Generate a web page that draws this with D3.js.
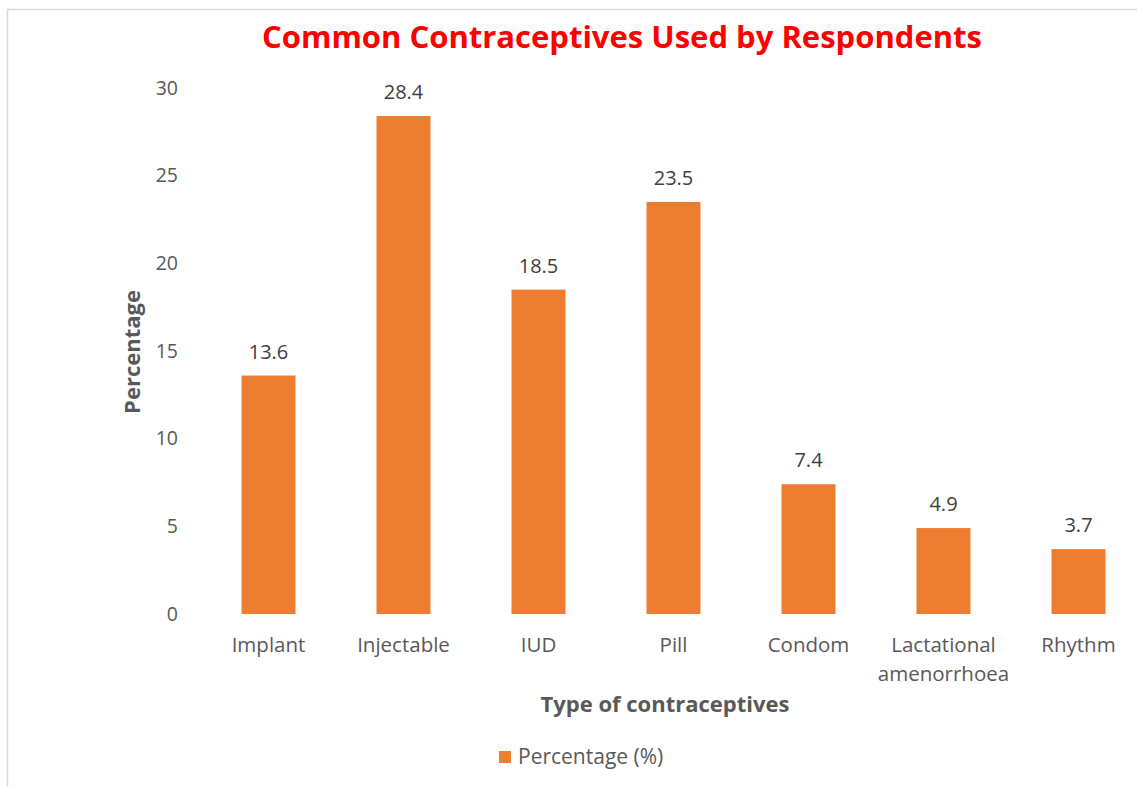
<!DOCTYPE html>
<html>
<head>
<meta charset="utf-8">
<script src="https://cdn.jsdelivr.net/npm/d3@7"></script>
<style>
  html, body { margin: 0; padding: 0; background: #fff; }
  svg { display: block; }
  text { font-family: "Open Sans", "Noto Sans", sans-serif; }
</style>
</head>
<body>
<svg id="chart" width="1137" height="787"></svg>
<script>
// Contraceptive methods and share of respondents using each (%)
const categories = ["Implant", "Injectable", "IUD", "Pill", "Condom", "Lactational amenorrhoea", "Rhythm"];
const categoryLines = [["Implant"], ["Injectable"], ["IUD"], ["Pill"], ["Condom"], ["Lactational", "amenorrhoea"], ["Rhythm"]];
const percentages = [13.6, 28.4, 18.5, 23.5, 7.4, 4.9, 3.7];
const yTicks = [0, 5, 10, 15, 20, 25, 30];

const svg = d3.select("#chart");
const W = 1137, H = 787;

// chart frame
svg.append("rect")
  .attr("x", 7.5).attr("y", 9.5)
  .attr("width", W + 20).attr("height", H + 20)
  .attr("fill", "#fff")
  .attr("stroke", "#d9d9d9").attr("stroke-width", 1.5);

const plot = { left: 201, right: 1146, top: 88, bottom: 614 };

const x = d3.scaleBand()
  .domain(categories)
  .range([plot.left, plot.right])
  .paddingInner(0.6)
  .paddingOuter(0.3);

const y = d3.scaleLinear()
  .domain([0, 30])
  .range([plot.bottom, plot.top]);

const textColor = "#595959";

// y axis (labels only)
const yAxis = svg.append("g")
  .attr("transform", `translate(${plot.left - 23},0)`)
  .call(d3.axisLeft(y).tickValues(yTicks).tickSize(0).tickPadding(0));
yAxis.select(".domain").remove();
yAxis.selectAll("text")
  .attr("fill", textColor)
  .style("font-size", "19.5px")
  .style("font-family", "'Open Sans', sans-serif");

// bars
svg.append("g").selectAll("rect")
  .data(percentages)
  .join("rect")
  .attr("x", (d, i) => x(categories[i]))
  .attr("y", d => y(d))
  .attr("width", x.bandwidth())
  .attr("height", d => y(0) - y(d))
  .attr("fill", "#ed7d31");

// value labels
svg.append("g").selectAll("text")
  .data(percentages)
  .join("text")
  .attr("x", (d, i) => x(categories[i]) + x.bandwidth() / 2)
  .attr("y", d => y(d) - 17)
  .attr("text-anchor", "middle")
  .attr("fill", "#404040")
  .style("font-size", "20px")
  .text(d => d.toFixed(1));

// category labels
const xl = svg.append("g").selectAll("text")
  .data(categoryLines)
  .join("text")
  .attr("x", (d, i) => x(categories[i]) + x.bandwidth() / 2)
  .attr("y", 652)
  .attr("text-anchor", "middle")
  .attr("fill", textColor)
  .style("font-size", "20.5px");
xl.each(function(lines) {
  const t = d3.select(this);
  lines.forEach((ln, k) => {
    t.append("tspan")
      .attr("x", t.attr("x"))
      .attr("dy", k === 0 ? 0 : 29)
      .text(ln);
  });
});

// title
svg.append("text")
  .attr("x", 622).attr("y", 48)
  .attr("text-anchor", "middle")
  .attr("fill", "#ff0000")
  .style("font-size", "31px")
  .style("font-weight", "bold")
  .text("Common Contraceptives Used by Respondents");

// axis titles
svg.append("text")
  .attr("x", 665).attr("y", 712)
  .attr("text-anchor", "middle")
  .attr("fill", textColor)
  .style("font-size", "22px")
  .style("font-weight", "bold")
  .text("Type of contraceptives");

svg.append("text")
  .attr("transform", "translate(140,352) rotate(-90)")
  .attr("text-anchor", "middle")
  .attr("fill", textColor)
  .style("font-size", "22px")
  .style("font-weight", "bold")
  .text("Percentage");

// legend
const legend = svg.append("g").attr("transform", "translate(499,751)");
legend.append("rect").attr("width", 12).attr("height", 12).attr("fill", "#ed7d31");
legend.append("text")
  .attr("x", 19).attr("y", 13)
  .attr("fill", textColor)
  .style("font-size", "21px")
  .text("Percentage (%)");
</script>
</body>
</html>
